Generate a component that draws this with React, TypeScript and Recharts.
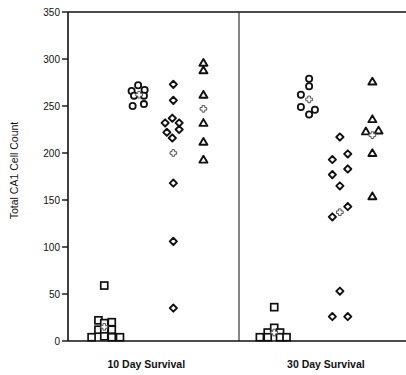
import React from "react";
import {
  ScatterChart,
  Scatter,
  XAxis,
  YAxis,
  ReferenceLine,
} from "recharts";

// group labels on the x axis
const groupLabels = ["10 Day Survival", "30 Day Survival"];
const groupTicks = [2.29, 7.54];
const yTicks = [0, 50, 100, 150, 200, 250, 300, 350];

// 10 day survival
const sq10X = [0.69, 0.89, 0.89, 1.06, 1.06, 1.06, 1.28, 1.28, 1.28, 1.52, 1.06];
const sq10Y = [4, 22, 12, 19, 12, 5, 20, 12, 4, 4, 59];
const ci10X = [1.86, 2.05, 2.24, 1.93, 2.22, 1.89, 2.22];
const ci10Y = [266, 272, 267, 261, 261, 250, 252];
const di10X = [3.08, 3.08, 2.84, 3.05, 3.25, 2.89, 3.25, 3.05, 3.08, 3.08, 3.08];
const di10Y = [273, 256, 232, 237, 232, 222, 225, 216, 168, 106, 35];
const tr10X = [3.96, 3.96, 3.96, 3.96, 3.96, 3.96];
const tr10Y = [296, 288, 262, 232, 212, 193];

// 30 day survival
const sq30X = [6.03, 5.61, 5.84, 6.03, 6.2, 5.84, 6.2, 6.39];
const sq30Y = [36, 4, 9, 14, 9, 4, 4, 4];
const ci30X = [7.05, 7.05, 6.81, 6.81, 7.05, 7.22];
const ci30Y = [279, 271, 262, 249, 241, 246];
const di30X = [7.95, 7.73, 8.18, 7.73, 8.18, 7.95, 7.73, 8.18, 7.95, 7.73, 8.18];
const di30Y = [217, 193, 199, 177, 183, 165, 132, 143, 53, 26, 26];
const tr30X = [8.9, 8.9, 8.71, 9.08, 8.9, 8.9];
const tr30Y = [276, 236, 223, 224, 200, 154];

// group means (cross markers)
const meanX = [1.06, 2.08, 3.08, 3.96, 6.03, 7.05, 7.95, 8.9];
const meanY = [15, 262, 200, 247, 9, 257, 137, 219];

const pts = (xs: number[], ys: number[]) => ys.map((y, i) => ({ x: xs[i], y }));

const INK = "#111";
const FONT = "Liberation Sans, Arial, sans-serif";

const Square = (p: any) => (
  <rect x={p.cx - 3.5} y={p.cy - 3.5} width={7} height={7} fill="#fff" stroke={INK} strokeWidth={1.7} />
);
const Circ = (p: any) => (
  <circle cx={p.cx} cy={p.cy} r={3.1} fill="#fff" stroke={INK} strokeWidth={1.8} />
);
const Diamond = (p: any) => (
  <polygon
    points={`${p.cx},${p.cy - 3.6} ${p.cx + 3.6},${p.cy} ${p.cx},${p.cy + 3.6} ${p.cx - 3.6},${p.cy}`}
    fill="#fff"
    stroke={INK}
    strokeWidth={1.9}
    strokeLinejoin="round"
  />
);
const Tri = (p: any) => (
  <polygon
    points={`${p.cx},${p.cy - 3.8} ${p.cx + 4},${p.cy + 3} ${p.cx - 4},${p.cy + 3}`}
    fill="#fff"
    stroke={INK}
    strokeWidth={1.9}
    strokeLinejoin="round"
  />
);
const Cross = (p: any) => {
  const a = 1.3;
  const b = 3.3;
  const { cx: x, cy: y } = p;
  const d = `M${x - a},${y - b} H${x + a} V${y - a} H${x + b} V${y + a} H${x + a} V${y + b} H${x - a} V${y + a} H${x - b} V${y - a} H${x - a} Z`;
  return <path d={d} fill="#fff" stroke="#555" strokeWidth={1} />;
};

export default function App() {
  return (
    <div style={{ position: "absolute", left: 0, top: 0, width: 406, height: 375, overflow: "hidden", background: "#fff" }}>
      <ScatterChart width={410} height={375} margin={{ top: 12, right: 0, bottom: 10, left: 0 }}>
        <XAxis
          type="number"
          dataKey="x"
          domain={[0, 10]}
          ticks={groupTicks}
          tickFormatter={(v: number) => groupLabels[groupTicks.indexOf(v)]}
          tickLine={false}
          axisLine={{ stroke: INK, strokeWidth: 1.6 }}
          height={24}
          tickMargin={14}
          tick={{ fill: INK, fontSize: 10.5, fontWeight: 700, fontFamily: FONT }}
          allowDataOverflow
        />
        <YAxis
          type="number"
          dataKey="y"
          domain={[0, 350]}
          ticks={yTicks}
          width={68}
          tickSize={6}
          tickMargin={2}
          tickLine={{ stroke: INK, strokeWidth: 1.4 }}
          axisLine={{ stroke: INK, strokeWidth: 1.6 }}
          tick={{ fill: INK, fontSize: 10, fontFamily: FONT }}
          label={{
            value: "Total CA1 Cell Count",
            angle: -90,
            position: "insideLeft",
            offset: 14,
            dy: -6,
            style: { fill: INK, fontSize: 10.5, fontFamily: FONT, textAnchor: "middle" },
          }}
        />
        <ReferenceLine y={350} stroke={INK} strokeWidth={1.5} />
        <ReferenceLine x={5} stroke="#333" strokeWidth={1.2} />
        <Scatter data={pts(sq10X, sq10Y)} shape={Square} isAnimationActive={false} />
        <Scatter data={pts(ci10X, ci10Y)} shape={Circ} isAnimationActive={false} />
        <Scatter data={pts(di10X, di10Y)} shape={Diamond} isAnimationActive={false} />
        <Scatter data={pts(tr10X, tr10Y)} shape={Tri} isAnimationActive={false} />
        <Scatter data={pts(sq30X, sq30Y)} shape={Square} isAnimationActive={false} />
        <Scatter data={pts(ci30X, ci30Y)} shape={Circ} isAnimationActive={false} />
        <Scatter data={pts(di30X, di30Y)} shape={Diamond} isAnimationActive={false} />
        <Scatter data={pts(tr30X, tr30Y)} shape={Tri} isAnimationActive={false} />
        <Scatter data={pts(meanX, meanY)} shape={Cross} isAnimationActive={false} />
      </ScatterChart>
    </div>
  );
}
